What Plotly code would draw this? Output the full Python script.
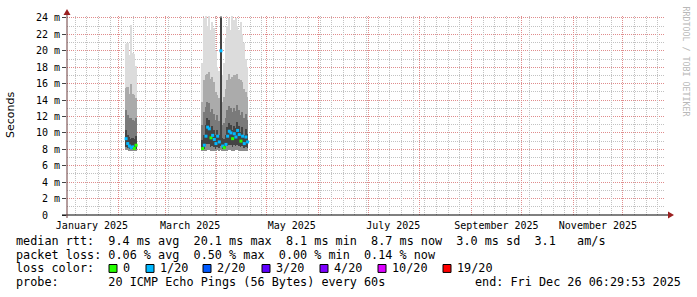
import plotly.graph_objects as go
import pandas as pd

# ---------------- data ----------------
# daily consolidated bins (bar centred at noon)
days_c1 = list(pd.date_range("2025-02-05 12:00", periods=7, freq="D"))
days_c2 = list(pd.date_range("2025-03-23 12:00", periods=28, freq="D"))
days = days_c1 + days_c2

# median rtt (ms)
median_ms = [9.3, 8.7, 8.4, 8.2, 8.3, 8.1, 8.5,
             8.1, 8.5, 9.6, 10.7, 10.5, 9.4, 9.7, 9.2, 8.7, 9.6, 8.9,
             20.0,
             8.4, 8.2, 8.6, 9.6, 10.2, 10.0, 9.3, 9.9, 9.5, 10.3, 9.8, 9.0, 9.6, 8.7, 9.5, 8.9]
# loss (pings lost out of 20) of each bin
loss_of20 = [1, 1, 1, 1, 1, 0, 0,
             0, 1, 1, 1, 1, 0, 1, 1, 1, 1, 1,
             1,
             1, 0, 1, 1, 1, 1, 0, 1, 1, 1, 1, 0, 1, 1, 1, 1]
# smoke percentiles (ms)
smoke_min = [7.9, 7.9, 7.8, 7.8, 7.8, 7.8, 7.9,
             7.9, 7.8, 7.8, 7.9, 7.9, 7.8, 7.8, 7.8, 7.8, 7.9, 7.8,
             7.9,
             7.8, 7.8, 7.8, 7.8, 7.9, 7.9, 7.8, 7.8, 7.9, 7.9, 7.8, 7.8, 7.8, 7.8, 7.8, 7.8]
smoke_p10 = [8.3, 8.2, 8.1, 8.0, 8.0, 7.95, 8.1,
             7.95, 8.1, 8.4, 8.6, 8.6, 8.3, 8.4, 8.3, 8.1, 8.3, 8.2,
             8.4,
             8.1, 8.0, 8.2, 8.4, 8.5, 8.5, 8.3, 8.5, 8.4, 8.5, 8.4, 8.3, 8.4, 8.2, 8.3, 8.2]
smoke_p60 = [10.4, 9.8, 9.5, 9.3, 9.4, 9.2, 9.6,
             9.1, 9.8, 11.0, 11.8, 11.6, 10.6, 10.8, 10.3, 9.7, 10.4, 9.8,
             24.0,
             9.4, 9.2, 9.7, 10.7, 11.2, 11.0, 10.4, 10.9, 10.6, 11.3, 10.8, 10.1, 10.7, 9.8, 10.5, 9.9]
smoke_p75 = [12.8, 12.2, 11.8, 11.8, 11.6, 11.4, 11.8,
             11.0, 12.5, 13.2, 13.8, 13.6, 12.6, 12.9, 12.3, 11.6, 12.2, 11.5,
             24.1,
             11.0, 11.2, 11.8, 12.8, 13.3, 13.0, 12.5, 13.0, 12.7, 13.4, 12.8, 12.2, 12.6, 11.8, 12.3, 11.6]
smoke_p90 = [15.5, 15.6, 14.8, 16.0, 14.8, 14.6, 14.2,
             13.8, 16.5, 17.0, 17.2, 17.4, 16.6, 16.8, 16.2, 15.0, 14.6, 14.2,
             24.2,
             13.8, 14.4, 15.4, 16.5, 17.2, 16.6, 16.8, 17.0, 17.0, 17.2, 16.6, 16.4, 16.2, 15.4, 15.0, 14.4]
smoke_max = [20.8, 21.0, 19.5, 23.2, 19.7, 19.6, 18.2,
             18.5, 24.0, 24.2, 23.0, 24.2, 22.5, 23.5, 22.8, 20.0, 18.0, 17.5,
             24.3,
             17.0, 18.5, 21.5, 23.0, 24.0, 22.5, 24.2, 23.8, 24.0, 23.0, 22.5, 23.5, 22.0, 21.0, 19.0, 18.0]

loss_levels = [0, 1, 2, 3, 4, 10, 19]
loss_labels = ["0", "1/20", "2/20", "3/20", "4/20", "10/20", "19/20"]
loss_colors = ["#26ff00", "#00b8ff", "#0059ff", "#5e00ff", "#7e00ff", "#dd00ff", "#ff0000"]

y_ticks = [0, 2, 4, 6, 8, 10, 12, 14, 16, 18, 20, 22, 24]
y_ticktext = ["0\u00a0\u00a0"] + [f"{v} m" for v in y_ticks[1:]]
y_minor = [1, 3, 5, 7, 9, 11, 13, 15, 17, 19, 21, 23]

x_start = "2025-01-01 00:00:00"
x_end = "2025-12-26 06:29:53"
month_labels = ["January 2025", "March 2025", "May 2025", "July 2025", "September 2025", "November 2025"]
month_label_pos = ["2025-01-16", "2025-03-16", "2025-05-16", "2025-07-16", "2025-09-16", "2025-11-16"]

stat_lines = [
    "median rtt:  9.4 ms avg  20.1 ms max  8.1 ms min  8.7 ms now  3.0 ms sd  3.1   am/s",
    "packet loss: 0.06 % avg  0.50 % max  0.00 % min  0.14 % now",
    "loss color:",
    "probe:       20 ICMP Echo Pings (56 Bytes) every 60s",
]
end_text = "end: Fri Dec 26 06:29:53 2025"
watermark = "RRDTOOL / TOBI OETIKER"

# ---------------- layout helpers ----------------
W, H = 697, 297
L, R, T, B = 67, 32, 14, 82
PW, PH = W - L - R, H - T - B


def pxx(x):
    return (x - L) / PW


def pxy(y):
    return (H - B - y) / PH


MONO = "DejaVu Sans Mono"
GRID = "#c2c2c2"
MGRID = "#e08c8c"
DASH = "1px,1px"
DAY_MS = 86400000

month_starts = list(pd.date_range("2025-01-01", "2025-12-01", freq="MS"))
mondays = [d for d in pd.date_range("2025-01-06", "2025-12-26", freq="W-MON") if d.day != 1]

fig = go.Figure()


def add_layer(lo, hi, color):
    fig.add_trace(go.Bar(
        x=days, base=lo, y=[h - l for l, h in zip(lo, hi)], width=DAY_MS,
        marker=dict(color=color, line=dict(width=0)), hoverinfo="skip"))


add_layer(smoke_p90, smoke_max, "#dcdcdc")
add_layer(smoke_p75, smoke_p90, "#ababab")
add_layer(smoke_p60, smoke_p75, "#7a7a7a")
add_layer(smoke_p10, smoke_p60, "#444444")
add_layer(smoke_min, smoke_p10, "#8c8c8c")

cmap = dict(zip(loss_levels, loss_colors))
fig.add_trace(go.Scatter(
    x=days, y=median_ms, mode="markers",
    marker=dict(symbol="square", size=3, color=[cmap[v] for v in loss_of20], line=dict(width=0)),
    hoverinfo="skip"))

# empty traces so that the helper axes (labels / minor grids) are drawn
fig.add_trace(go.Scatter(x=[], y=[], xaxis="x2", yaxis="y", hoverinfo="skip"))
fig.add_trace(go.Scatter(x=[], y=[], xaxis="x3", yaxis="y2", hoverinfo="skip"))

common_x = dict(type="date", range=[x_start, x_end], zeroline=False, showline=False)

fig.update_layout(
    width=W, height=H, margin=dict(l=L, r=R, t=T, b=B),
    paper_bgcolor="white", plot_bgcolor="white", showlegend=False,
    barmode="overlay", bargap=0,
    xaxis=dict(**common_x, tickmode="array", tickvals=month_starts,
               ticktext=[""] * len(month_starts), showticklabels=False, ticks="",
               showgrid=True, gridcolor=MGRID, griddash=DASH, gridwidth=1),
    xaxis2=dict(**common_x, overlaying="x", anchor="y", side="bottom",
                tickmode="array", tickvals=month_label_pos, ticktext=month_labels,
                showgrid=False, ticks="", ticklabelstandoff=3,
                tickfont=dict(family=MONO, size=10, color="black")),
    xaxis3=dict(**common_x, overlaying="x", anchor="y2", side="bottom",
                tickmode="array", tickvals=mondays, showticklabels=False, ticks="",
                showgrid=True, gridcolor=GRID, griddash=DASH, gridwidth=1),
    yaxis=dict(range=[0, 24.24], tickmode="array", tickvals=y_ticks, ticktext=y_ticktext,
               showgrid=True, gridcolor=MGRID, griddash=DASH, gridwidth=1,
               ticks="outside", ticklen=4, tickcolor="#444", zeroline=False, showline=False,
               tickfont=dict(family=MONO, size=10, color="black")),
    yaxis2=dict(range=[0, 24.24], overlaying="y", anchor="x3", side="left",
                tickmode="array", tickvals=y_minor, showticklabels=False, ticks="",
                showgrid=True, gridcolor=GRID, griddash=DASH, gridwidth=1,
                zeroline=False, showline=False),
)

shapes = []
# axes
shapes.append(dict(type="line", xref="paper", yref="paper", x0=pxx(62), x1=pxx(668),
                   y0=0, y1=0, line=dict(color="black", width=1), layer="above"))
shapes.append(dict(type="line", xref="paper", yref="paper", x0=0, x1=0,
                   y0=pxy(218), y1=pxy(11), line=dict(color="#6a3a3a", width=1), layer="above"))
# arrows
shapes.append(dict(type="path", xref="paper", yref="paper", layer="above",
                   path=f"M {pxx(668)},{pxy(211.5)} L {pxx(674)},{pxy(215)} L {pxx(668)},{pxy(218.5)} Z",
                   fillcolor="#9b2020", line=dict(color="#9b2020", width=0)))
shapes.append(dict(type="path", xref="paper", yref="paper", layer="above",
                   path=f"M {pxx(63.5)},{pxy(13)} L {pxx(67)},{pxy(7)} L {pxx(70.5)},{pxy(13)} Z",
                   fillcolor="#9b2020", line=dict(color="#9b2020", width=0)))

annotations = []
annotations.append(dict(text="Seconds", xref="paper", yref="paper", x=pxx(10), y=pxy(114),
                        xanchor="center", yanchor="middle", textangle=-90, showarrow=False,
                        font=dict(family="DejaVu Sans", size=11, color="black")))
annotations.append(dict(text=watermark, xref="paper", yref="paper", x=pxx(686), y=pxy(60),
                        xanchor="center", yanchor="middle", textangle=90, showarrow=False,
                        font=dict(family=MONO, size=8.3, color="#b8b8b8")))

line_y = [241.5, 255.2, 269.0, 282.7]
for txt, yy in zip(stat_lines, line_y):
    annotations.append(dict(text=txt.replace(" ", "&nbsp;"), xref="paper", yref="paper",
                            x=pxx(16), y=pxy(yy), xanchor="left", yanchor="middle",
                            showarrow=False, borderpad=0, borderwidth=0,
                            font=dict(family=MONO, size=11.8, color="black")))
annotations.append(dict(text=end_text.replace(" ", "&nbsp;"), xref="paper", yref="paper",
                        x=pxx(681), y=pxy(line_y[3]), xanchor="right", yanchor="middle",
                        showarrow=False, borderpad=0, borderwidth=0,
                        font=dict(family=MONO, size=11.8, color="black")))

box_x = [109, 146, 203, 262, 320, 378, 443]
for bx, lab, col in zip(box_x, loss_labels, loss_colors):
    shapes.append(dict(type="rect", xref="paper", yref="paper", layer="above",
                       x0=pxx(bx), x1=pxx(bx + 8), y0=pxy(273), y1=pxy(265),
                       fillcolor=col, line=dict(color="black", width=1)))
    annotations.append(dict(text=lab, xref="paper", yref="paper", x=pxx(bx + 14),
                            y=pxy(line_y[2]), xanchor="left", yanchor="middle",
                            showarrow=False, borderpad=0, borderwidth=0,
                            font=dict(family=MONO, size=11.8, color="black")))

fig.update_layout(shapes=shapes, annotations=annotations)
fig.write_html("out.html")
